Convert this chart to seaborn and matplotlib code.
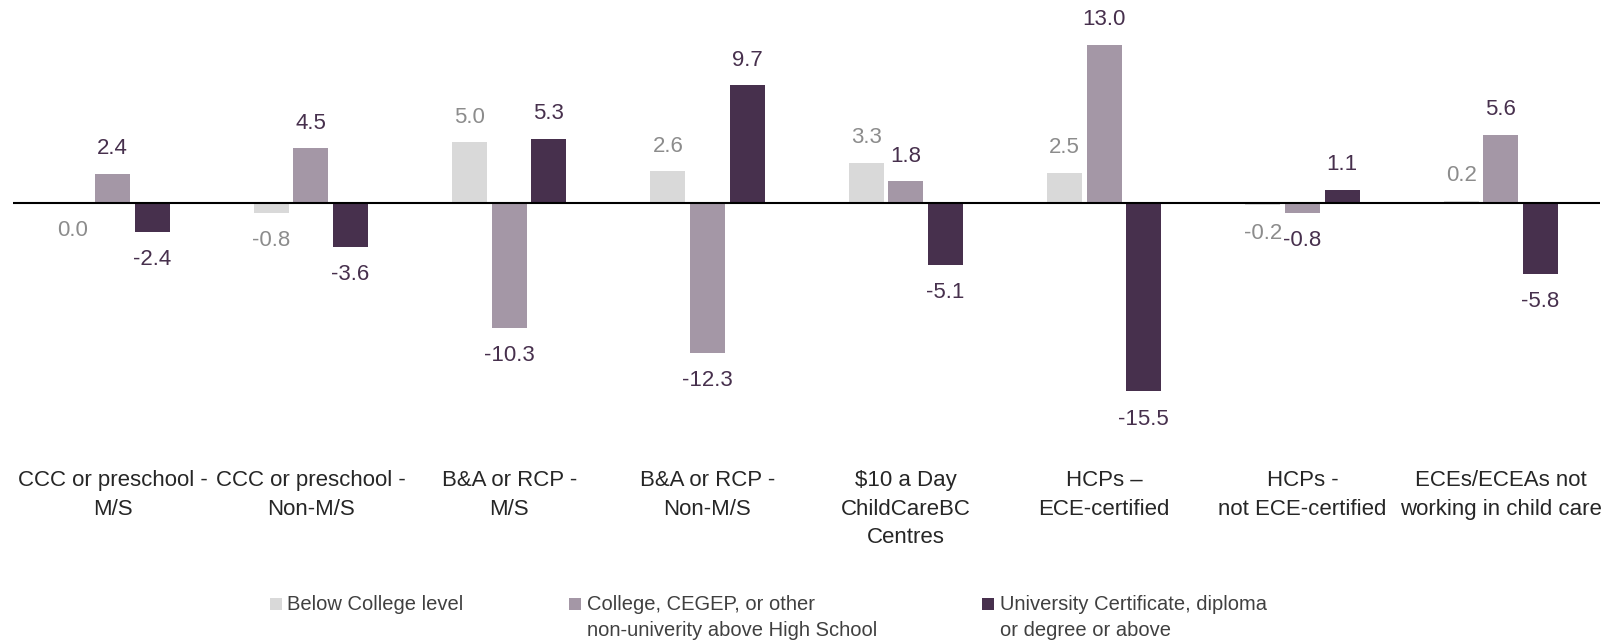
import matplotlib
matplotlib.use("Agg")
import matplotlib.pyplot as plt
import seaborn as sns
import pandas as pd
from matplotlib.patches import Rectangle

categories = [
    "CCC or preschool -\nM/S",
    "CCC or preschool -\nNon-M/S",
    "B&A or RCP -\nM/S",
    "B&A or RCP -\nNon-M/S",
    "\\$10 a Day\nChildCareBC\nCentres",
    "HCPs –\nECE-certified",
    "HCPs -\nnot ECE-certified",
    "ECEs/ECEAs not\nworking in child care",
]
series_names = [
    "Below College level",
    "College, CEGEP, or other\nnon-univerity above High School",
    "University Certificate, diploma\nor degree or above",
]
below_college = [0.0, -0.8, 5.0, 2.6, 3.3, 2.5, -0.2, 0.2]
college = [2.4, 4.5, -10.3, -12.3, 1.8, 13.0, -0.8, 5.6]
university = [-2.4, -3.6, 5.3, 9.7, -5.1, -15.5, 1.1, -5.8]

colors = ["#D9D9D9", "#A497A6", "#47304D"]
label_colors = ["#8C8C8C", "#47304D", "#47304D"]

plt.rcParams["font.family"] = ["Liberation Sans", "DejaVu Sans"]

rows = []
for s, vals in zip(series_names, [below_college, college, university]):
    for c, v in zip(categories, vals):
        rows.append({"category": c, "series": s, "value": v})
df = pd.DataFrame(rows)

W, H = 1608, 644
fig = plt.figure(figsize=(W / 100, H / 100), dpi=100)
ax = fig.add_axes([0.0083, 0.345, 0.9867, 0.655])

sns.barplot(data=df, x="category", y="value", hue="series", order=categories,
            hue_order=series_names, palette=colors, width=0.6, gap=0.12,
            saturation=1, edgecolor="none", legend=False, ax=ax)

ax.set_xlim(-0.5, 7.5)
ax.set_ylim(-18, 16.7)
ax.axhline(0, color="black", lw=1.5, zorder=3)
for sp in ax.spines.values():
    sp.set_visible(False)
ax.set_yticks([])
ax.set_xlabel("")
ax.set_ylabel("")
ax.tick_params(axis="x", length=0, pad=35, labelsize=16, colors="#262626")
ax.set_xticks(range(len(categories)))
ax.set_xticklabels(categories, va="top", ha="center", linespacing=1.45)

for i, cont in enumerate(ax.containers):
    for p in cont.patches:
        y0 = p.get_y()
        top = y0 + p.get_height()
        end = top if abs(top) > abs(y0) else y0
        pos = end > 0
        xc = p.get_x() + p.get_width() / 2
        ax.annotate(f"{end:.1f}", (xc, end), xytext=(0, 18 if pos else -20),
                    textcoords="offset points", ha="center", va="center",
                    fontsize=16, color=label_colors[i])

# legend drawn manually so that the squares align with the first text line
leg_marker_x = [270, 569, 982]
leg_text_x = [287, 587, 1000]
leg_y = 604
sq = 12
for c, name, mx, tx in zip(colors, series_names, leg_marker_x, leg_text_x):
    fig.patches.append(Rectangle((mx / W, 1 - (leg_y + sq / 2) / H), sq / W, sq / H,
                                 transform=fig.transFigure, facecolor=c,
                                 edgecolor="none"))
    fig.text(tx / W, 1 - (leg_y - 9) / H, name, ha="left", va="top",
             fontsize=14.5, color="#404040", linespacing=1.5)

fig.savefig("out.png", dpi=100)
